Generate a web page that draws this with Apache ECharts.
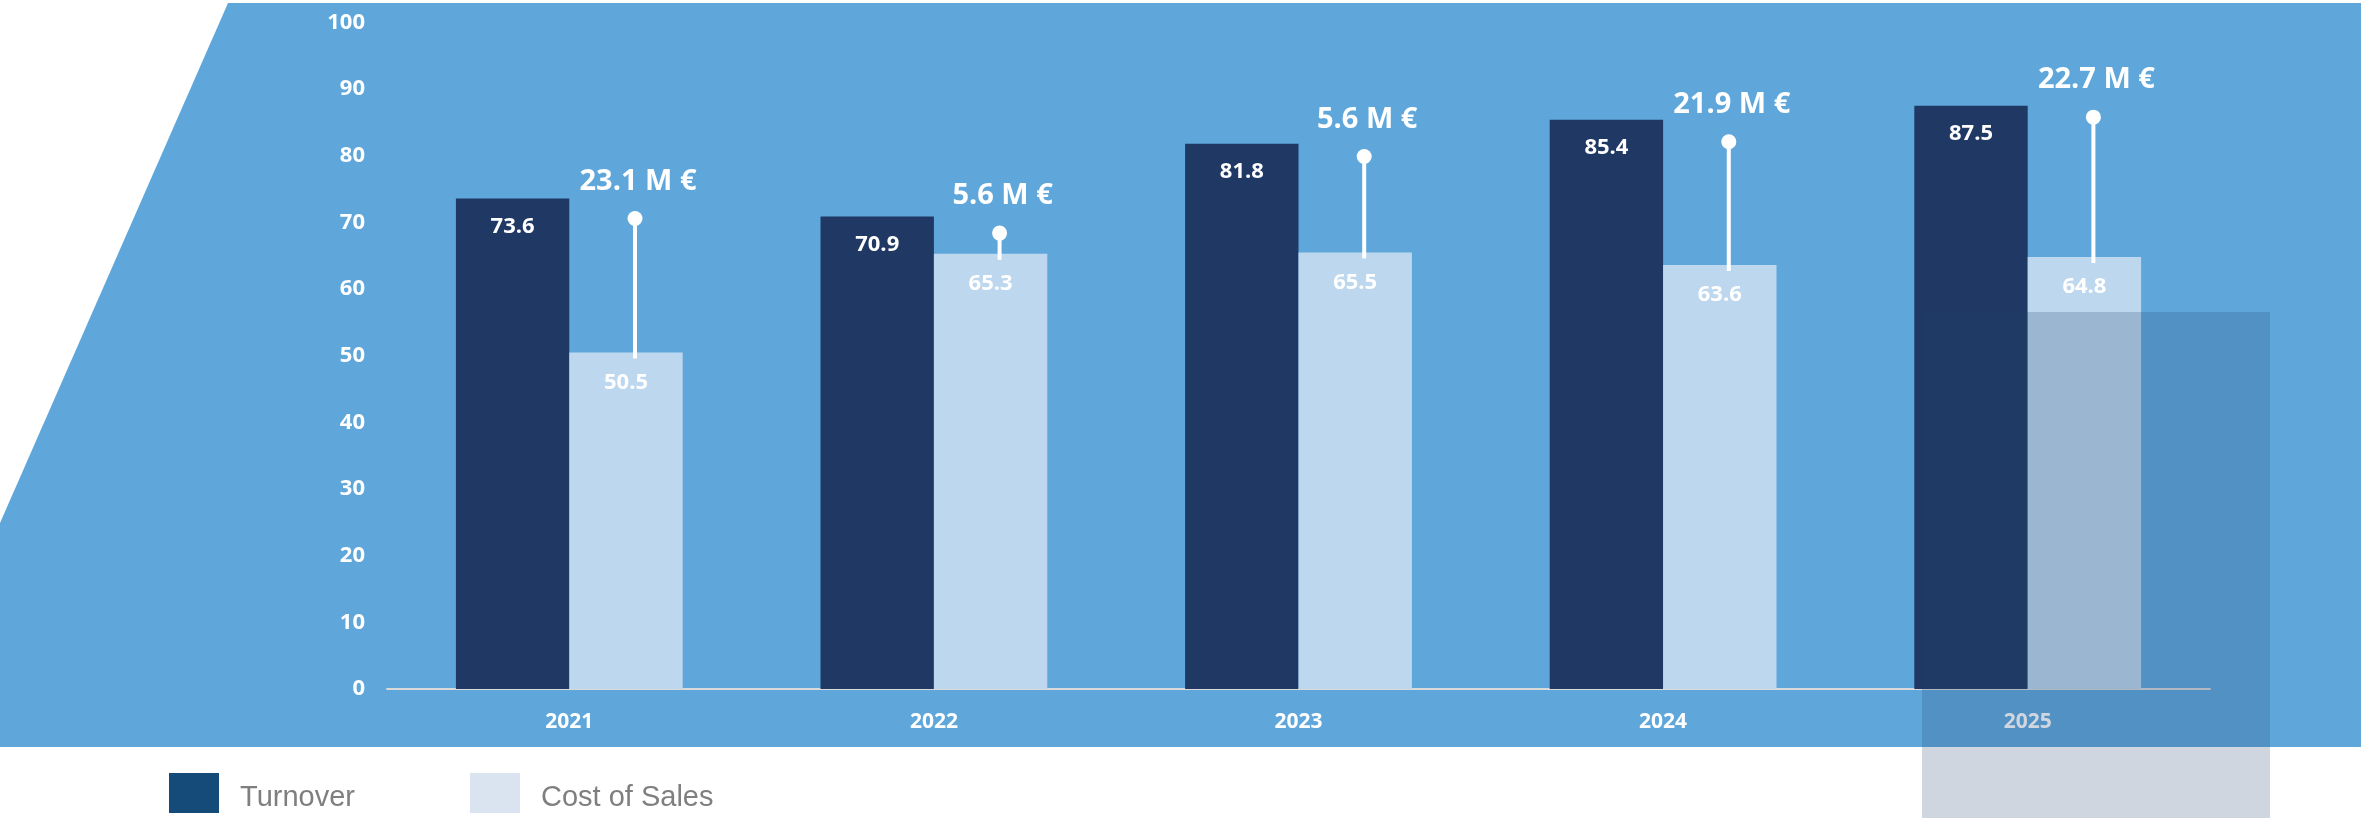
<!DOCTYPE html>
<html>
<head>
<meta charset="utf-8">
<script src="https://cdn.jsdelivr.net/npm/echarts@6/dist/echarts.min.js"></script>
<style>
  html, body { margin: 0; padding: 0; background: #ffffff; }
  #chart { width: 2361px; height: 818px; }
</style>
</head>
<body>
<div id="chart"></div>
<script>
// ---- data ----
const years = ['2021', '2022', '2023', '2024', '2025'];
const turnover = [73.6, 70.9, 81.8, 85.4, 87.5];
const costOfSales = [50.5, 65.3, 65.5, 63.6, 64.8];
const markerTop = [70.6, 68.4, 79.9, 82.1, 85.8];
const deltaLabels = ['23.1', '5.6', '5.6', '21.9', '22.7'];
const yTicks = { min: 0, max: 100, interval: 10 };

const FONT = '"Open Sans", "Noto Sans", sans-serif';
const LEGEND_FONT = '"Liberation Sans", Arial, sans-serif';
const BAR_W = 0.311;

const chart = echarts.init(document.getElementById('chart'), null, { renderer: 'canvas' });

const lollipopData = years.map((y, i) => [i, costOfSales[i], markerTop[i]]);

const legendText = {
  color: '#7F7F7F', fontSize: 29, fontFamily: LEGEND_FONT,
  rich: { t: { color: '#7F7F7F', fontSize: 29, fontFamily: LEGEND_FONT, padding: [10, 0, 0, 16] } }
};

const option = {
  backgroundColor: '#ffffff',
  animation: false,
  graphic: [
    {
      type: 'polygon', z: -10, silent: true,
      shape: { points: [[228, 3], [2361, 3], [2361, 747], [0, 747], [0, 523]] },
      style: { fill: '#5FA7DB' }
    },
    {
      type: 'rect', z: 100, silent: true,
      shape: { x: 1922, y: 312, width: 348, height: 506 },
      style: { fill: 'rgba(36,68,109,0.22)' }
    }
  ],
  legend: [
    {
      left: 169, top: 773, padding: 0, itemWidth: 50, itemHeight: 40, icon: 'rect',
      data: [{ name: 'Turnover', itemStyle: { color: '#154B78' } }],
      formatter: '{t|{name}}',
      textStyle: legendText
    },
    {
      left: 470, top: 773, padding: 0, itemWidth: 50, itemHeight: 40, icon: 'rect',
      data: [{ name: 'Cost of Sales', itemStyle: { color: '#DAE3F0' } }],
      formatter: '{t|{name}}',
      textStyle: legendText
    }
  ],
  grid: { left: 387, right: 151, top: 22.5, bottom: 129, containLabel: false },
  xAxis: {
    type: 'category',
    data: years,
    axisLine: { show: true, lineStyle: { color: '#D9D9D9', width: 2 } },
    axisTick: { show: false },
    axisLabel: { color: '#ffffff', fontWeight: 'bold', fontSize: 21, fontFamily: FONT, margin: 23 },
    splitLine: { show: false }
  },
  yAxis: {
    type: 'value',
    min: yTicks.min, max: yTicks.max, interval: yTicks.interval,
    axisLine: { show: false },
    axisTick: { show: false },
    splitLine: { show: false },
    axisLabel: { color: '#ffffff', fontWeight: 'bold', fontSize: 22, fontFamily: FONT, margin: 22 }
  },
  series: [
    {
      name: 'Turnover', type: 'bar', data: turnover,
      barWidth: (BAR_W * 100) + '%', barGap: '0%',
      itemStyle: { color: '#1F3864' },
      label: { show: true, position: 'insideTop', distance: 17, color: '#ffffff', fontWeight: 'bold', fontSize: 22, fontFamily: FONT }
    },
    {
      name: 'Cost of Sales', type: 'bar', data: costOfSales,
      barWidth: (BAR_W * 100) + '%', barGap: '0%',
      itemStyle: { color: '#BDD7EE' },
      label: { show: true, position: 'insideTop', distance: 19, color: '#ffffff', fontWeight: 'bold', fontSize: 22, fontFamily: FONT }
    },
    {
      name: 'Margin', type: 'custom', data: lollipopData, z: 5,
      encode: { x: 0, y: [1, 2] },
      renderItem: function (params, api) {
        const idx = api.value(0);
        const catW = api.size([1, 0])[0];
        const base = api.coord([idx, api.value(1)]);
        const top = api.coord([idx, api.value(2)]);
        const x = base[0] + catW * BAR_W / 2 + 9;
        return {
          type: 'group',
          children: [
            { type: 'line', shape: { x1: x, y1: base[1] + 6, x2: x, y2: top[1] }, style: { stroke: '#ffffff', lineWidth: 4 } },
            { type: 'circle', shape: { cx: x, cy: top[1], r: 7.5 }, style: { fill: '#ffffff' } },
            { type: 'text', x: x + 3, y: top[1] - 37,
              style: { text: deltaLabels[params.dataIndex] + ' M €', fill: '#ffffff', font: 'bold 29px ' + FONT, align: 'center', verticalAlign: 'middle' } }
          ]
        };
      }
    }
  ]
};

chart.setOption(option);
</script>
</body>
</html>
